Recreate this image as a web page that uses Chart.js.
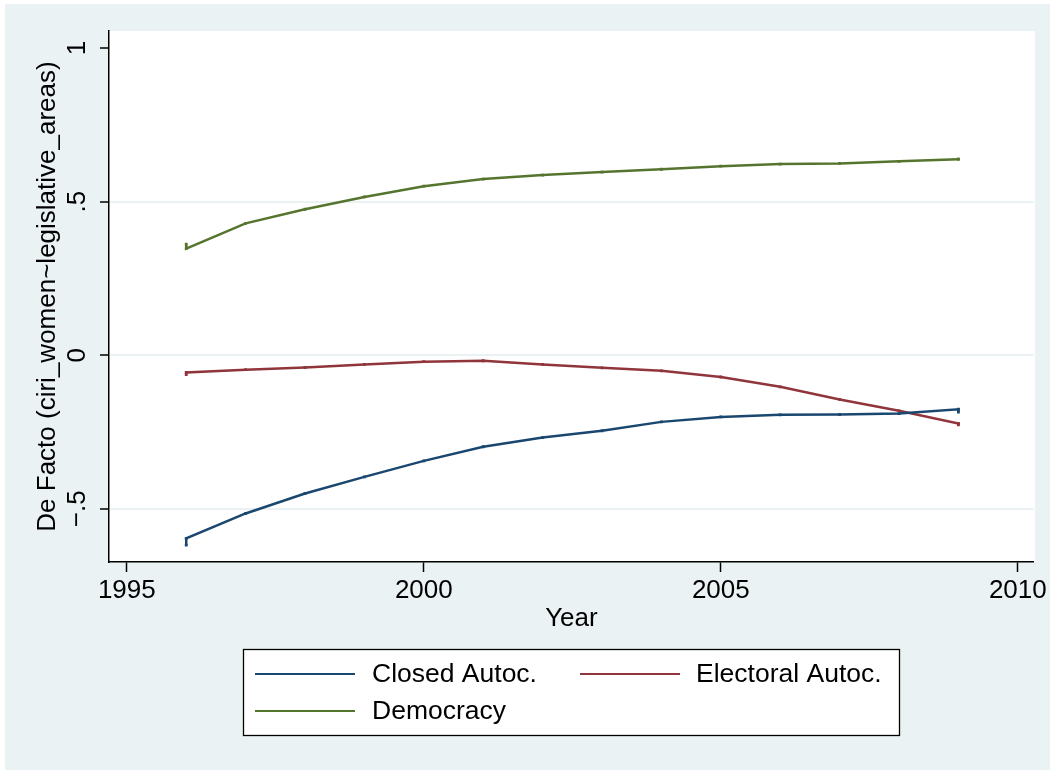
<!DOCTYPE html>
<html>
<head>
<meta charset="utf-8">
<script src="https://cdn.jsdelivr.net/npm/chart.js@4.4.1/dist/chart.umd.min.js"></script>
<style>
  html, body { margin: 0; padding: 0; background: #ffffff; }
  #wrap { width: 1050px; height: 770px; }
</style>
</head>
<body>
<div id="wrap"><canvas id="c" width="1050" height="770"></canvas></div>
<script>
// Years on the x axis
const years = [1996, 1997, 1998, 1999, 2000, 2001, 2002, 2003, 2004, 2005, 2006, 2007, 2008, 2009];

// Fitted de facto scores by regime type
const closedAutoc    = [-0.596, -0.515, -0.450, -0.396, -0.344, -0.298, -0.268, -0.246, -0.217, -0.201, -0.194, -0.193, -0.190, -0.176];
const electoralAutoc = [-0.056, -0.047, -0.040, -0.030, -0.021, -0.018, -0.030, -0.041, -0.051, -0.071, -0.103, -0.144, -0.181, -0.222];
const democracy      = [0.347, 0.429, 0.475, 0.515, 0.550, 0.573, 0.586, 0.596, 0.605, 0.615, 0.622, 0.624, 0.631, 0.638];

// Short end spurs of each fitted curve (value at first year, value at last year)
const closedSpur    = [-0.618, -0.185];
const electoralSpur = [-0.063, -0.227];
const democracySpur = [0.361, 0.638];

// Axis ticks and their labels
const xTicks = [1995, 2000, 2005, 2010];
const yTicks = [-0.5, 0, 0.5, 1];
const yTickLabels = ['\u2212.5', '0', '.5', '1'];

const seriesNames = ['Closed Autoc.', 'Electoral Autoc.', 'Democracy'];
const seriesColors = ['#1a476f', '#90353b', '#55752f'];

const FONT = '"Liberation Sans", Arial, Helvetica, sans-serif';
const BG = '#eaf2f3';

function buildPoints(values, spur) {
  const pts = [{ x: years[0], y: spur[0] }];
  years.forEach((yr, i) => pts.push({ x: yr, y: values[i] }));
  pts.push({ x: years[years.length - 1], y: spur[1] });
  return pts;
}

const seriesValues = [closedAutoc, electoralAutoc, democracy];
const seriesSpurs = [closedSpur, electoralSpur, democracySpur];

const datasets = seriesNames.map((name, i) => ({
  label: name,
  data: buildPoints(seriesValues[i], seriesSpurs[i]),
  showLine: true,
  borderColor: seriesColors[i],
  backgroundColor: seriesColors[i],
  borderWidth: 2.5,
  pointStyle: 'rect',
  pointRadius: 2,
  pointBorderWidth: 0,
  pointHoverRadius: 2,
  tension: 0
}));

// Page background, white plot region
const backdrop = {
  id: 'backdrop',
  beforeDraw(chart) {
    const { ctx, chartArea: a } = chart;
    ctx.save();
    ctx.fillStyle = '#ffffff';
    ctx.fillRect(0, 0, chart.width, chart.height);
    ctx.fillStyle = BG;
    ctx.fillRect(5, 4, chart.width - 5, chart.height - 4);
    ctx.fillStyle = '#ffffff';
    ctx.fillRect(a.left, a.top, a.right - a.left + 1, a.bottom - a.top);
    ctx.restore();
  }
};

// Vertical tick labels on the y axis
const yLabels = {
  id: 'yLabels',
  afterDraw(chart) {
    const { ctx } = chart;
    const ys = chart.scales.y;
    ctx.save();
    ctx.fillStyle = '#000';
    ctx.font = '26px ' + FONT;
    ctx.textAlign = 'center';
    ctx.textBaseline = 'alphabetic';
    yTicks.forEach((v, i) => {
      const py = ys.getPixelForValue(v);
      ctx.save();
      ctx.translate(ys.right - 24, py);
      ctx.rotate(-Math.PI / 2);
      ctx.fillText(yTickLabels[i], 0, 0);
      ctx.restore();
    });
    ctx.restore();
  }
};

// Boxed two-column legend under the x axis title
const boxLegend = {
  id: 'boxLegend',
  afterDraw(chart) {
    const { ctx } = chart;
    const box = { x: 243.5, y: 649.5, w: 656, h: 86 };
    ctx.save();
    ctx.fillStyle = '#ffffff';
    ctx.fillRect(box.x, box.y, box.w, box.h);
    ctx.strokeStyle = '#000';
    ctx.lineWidth = 1.3;
    ctx.strokeRect(box.x, box.y, box.w, box.h);
    const slots = [
      { lx: 255, tx: 372, y: 674 },
      { lx: 580, tx: 696, y: 674 },
      { lx: 255, tx: 372, y: 711 }
    ];
    ctx.font = '26.5px ' + FONT;
    ctx.textBaseline = 'middle';
    ctx.textAlign = 'left';
    chart.data.datasets.forEach((ds, i) => {
      const s = slots[i];
      ctx.strokeStyle = ds.borderColor;
      ctx.lineWidth = 2.2;
      ctx.beginPath();
      ctx.moveTo(s.lx, s.y);
      ctx.lineTo(s.lx + 100, s.y);
      ctx.stroke();
      ctx.fillStyle = '#000';
      ctx.fillText(ds.label, s.tx, s.y + 1);
    });
    ctx.restore();
  }
};

new Chart(document.getElementById('c'), {
  type: 'scatter',
  data: { datasets },
  plugins: [backdrop, yLabels, boxLegend],
  options: {
    responsive: false,
    animation: false,
    devicePixelRatio: 1,
    layout: { padding: { top: 31, right: 15, left: 0, bottom: 0 } },
    plugins: {
      legend: { display: false },
      tooltip: { enabled: false }
    },
    scales: {
      x: {
        type: 'linear',
        min: 1994.7,
        max: 2010.27,
        afterBuildTicks(scale) { scale.ticks = xTicks.map(v => ({ value: v })); },
        afterFit(scale) { scale.height = 208; },
        border: { display: true, color: '#000', width: 1.5 },
        grid: {
          drawOnChartArea: false,
          drawTicks: true,
          tickLength: 10,
          tickColor: '#000',
          tickWidth: 1.5
        },
        ticks: {
          color: '#000',
          font: { family: FONT, size: 26 },
          padding: 3,
          maxRotation: 0,
          minRotation: 0,
          callback: v => String(v)
        },
        title: {
          display: true,
          text: 'Year',
          color: '#000',
          font: { family: FONT, size: 26 },
          padding: { top: 0, bottom: 136 }
        }
      },
      y: {
        type: 'linear',
        min: -0.673,
        max: 1.055,
        afterBuildTicks(scale) { scale.ticks = yTicks.map(v => ({ value: v })); },
        afterFit(scale) { scale.width = 109; },
        border: { display: true, color: '#000', width: 1.5 },
        grid: {
          color: ctx => (ctx.tick && ctx.tick.value === 1 ? 'rgba(0,0,0,0)' : BG),
          lineWidth: 2,
          drawTicks: true,
          tickLength: 9,
          tickColor: '#000',
          tickWidth: 1.5
        },
        ticks: { display: false },
        title: {
          display: true,
          text: 'De Facto (ciri_women~legislative_areas)',
          color: '#000',
          font: { family: FONT, size: 26 },
          padding: { top: 32, bottom: 0 }
        }
      }
    }
  }
});
</script>
</body>
</html>
